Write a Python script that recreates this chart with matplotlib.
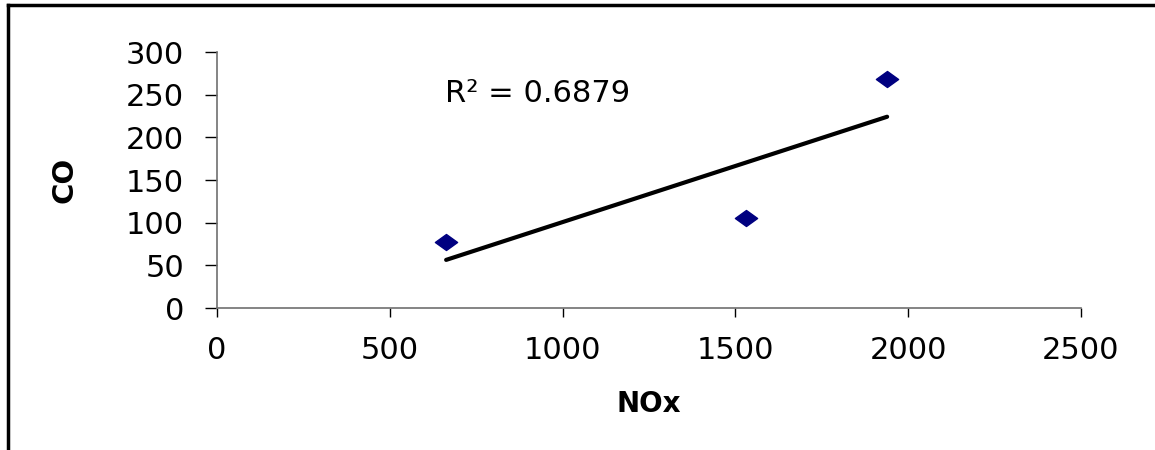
import matplotlib
matplotlib.use("Agg")
import matplotlib.pyplot as plt
import numpy as np
from matplotlib.path import Path
from matplotlib.lines import Line2D

# Data
nox = [663, 1531, 1939]
co = [77, 106, 268]
r2_label = "R\u00b2 = 0.6879"
x_ticks = [0, 500, 1000, 1500, 2000, 2500]
y_ticks = [0, 50, 100, 150, 200, 250, 300]

plt.rcParams['font.family'] = ['DejaVu Sans']

W, H = 1155, 450
fig = plt.figure(figsize=(W / 100, H / 100), dpi=100)
ax = fig.add_axes([217 / W, 1 - 308 / H, 864 / W, 256 / H])
ax.set_xlim(0, 2500)
ax.set_ylim(0, 300)
ax.set_xticks(x_ticks)
ax.set_yticks(y_ticks)

for s in ['top', 'right']:
    ax.spines[s].set_visible(False)
for s in ['left', 'bottom']:
    ax.spines[s].set_color('#707070')
    ax.spines[s].set_linewidth(1.2)

ax.tick_params(axis='both', direction='out', colors='black', labelsize=22, width=1)
ax.tick_params(axis='y', length=8.6, pad=15)
ax.tick_params(axis='x', length=6.5, pad=14)

# diamond marker, flattened
diamond = Path([(-1, 0), (0, 0.72), (1, 0), (0, -0.72), (-1, 0)],
               [Path.MOVETO, Path.LINETO, Path.LINETO, Path.LINETO, Path.CLOSEPOLY])

coef = np.polyfit(nox, co, 1)
xs = np.array([min(nox), max(nox)])
ax.plot(xs, np.polyval(coef, xs), color='black', lw=3, solid_capstyle='round', zorder=2)
ax.plot(nox, co, linestyle='none', marker=diamond, ms=16, color='#000080',
        markeredgecolor='#000080', zorder=3, clip_on=False)

ax.text(660, 241, r2_label, fontsize=22, va='baseline', ha='left')

ax.set_xlabel('NOx', fontsize=20, fontweight='bold')
ax.xaxis.set_label_coords(0.5, -0.32)
ax.set_ylabel('CO', fontsize=21, fontweight='bold', va='center')
ax.yaxis.set_label_coords(-0.177, 0.5)

# outer frame (left and top visible)
fig.add_artist(Line2D([8 / W, 8 / W], [0, 1 - 5 / H], transform=fig.transFigure,
                      color='black', lw=2.5))
fig.add_artist(Line2D([8 / W, 1], [1 - 5 / H, 1 - 5 / H], transform=fig.transFigure,
                      color='black', lw=2.5))

fig.savefig('out.png', dpi=100)
